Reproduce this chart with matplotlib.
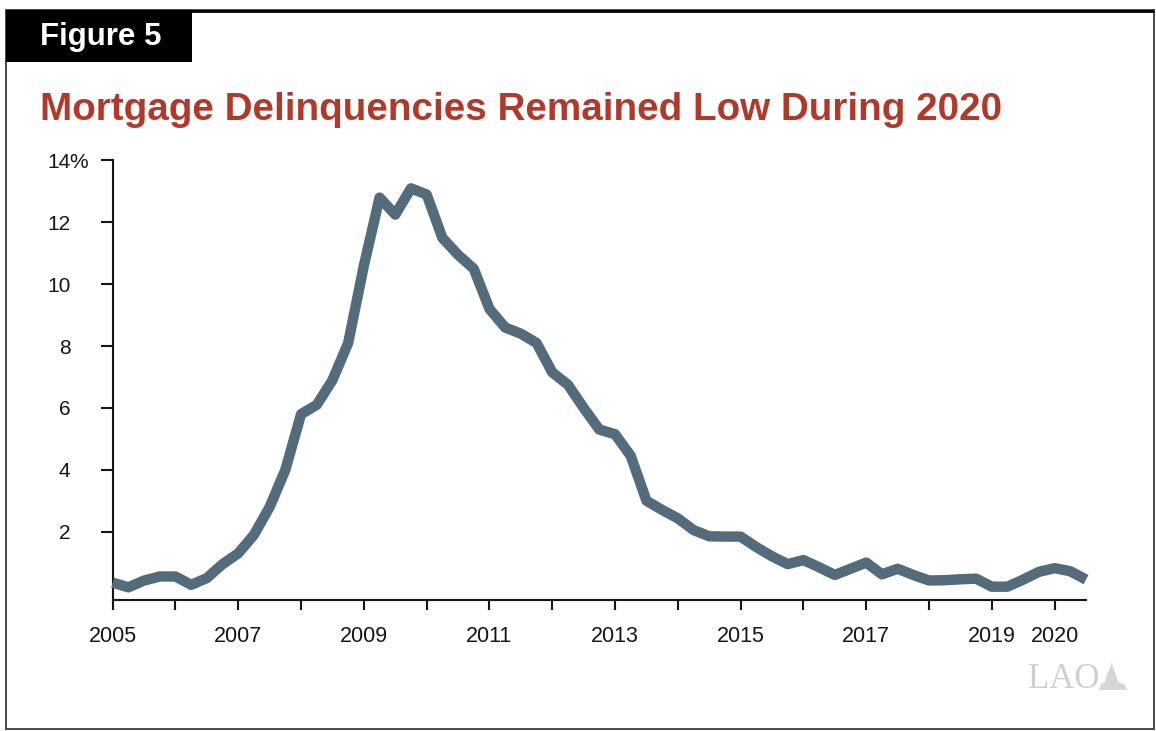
import matplotlib
matplotlib.use("Agg")
from matplotlib import pyplot as plt
from matplotlib.patches import Rectangle, Polygon
import numpy as np

plt.rcParams['font.family'] = ['Liberation Sans', 'DejaVu Sans']

# quarterly mortgage delinquency rate (%), 2005 Q1 .. 2020 Q3
years = list(range(2005, 2021))
rate = [
    0.35, 0.20, 0.42, 0.55,    # 2005
    0.55, 0.28, 0.50, 0.95,    # 2006
    1.30, 1.90, 2.80, 4.00,    # 2007
    5.80, 6.10, 6.90, 8.10,    # 2008
    10.60, 12.80, 12.25, 13.10,  # 2009
    12.90, 11.50, 10.95, 10.50,  # 2010
    9.20, 8.60, 8.40, 8.10,    # 2011
    7.15, 6.75, 6.00, 5.30,    # 2012
    5.15, 4.45, 3.00, 2.70,    # 2013
    2.43, 2.05, 1.85, 1.84,    # 2014
    1.84, 1.50, 1.20, 0.95,    # 2015
    1.08, 0.85, 0.60, 0.80,    # 2016
    1.00, 0.62, 0.80, 0.60,    # 2017
    0.42, 0.43, 0.46, 0.48,    # 2018
    0.22, 0.22, 0.45, 0.70,    # 2019
    0.82, 0.72, 0.45,          # 2020
]
quarter_pos = [years[0] + i / 4 for i in range(len(rate))]

y_ticks = [2, 4, 6, 8, 10, 12, 14]
x_labels = ['2005', '', '2007', '', '2009', '', '2011', '', '2013', '', '2015', '', '2017', '', '2019', '2020']

title = 'Mortgage Delinquencies Remained Low During 2020'
line_color = '#546b7c'
title_color = '#b1392b'
ink = '#151515'

W, H = 1156, 731
fig = plt.figure(figsize=(W / 100, H / 100), dpi=100)

def fx(px):
    return px / W

def fy(py):
    return 1 - py / H

# outer frame and figure tag
fig.patches.append(Rectangle((fx(6), fy(729)), fx(1148), 719 / H, transform=fig.transFigure,
                             fill=False, edgecolor='#3a3a3a', lw=1.3))
fig.patches.append(Rectangle((fx(6), fy(11)), fx(1148), 0.0, transform=fig.transFigure,
                             fill=False, edgecolor='black', lw=2))
fig.patches.append(Rectangle((fx(6), fy(62)), fx(186), 52 / H, transform=fig.transFigure,
                             facecolor='black', edgecolor='none'))
fig.text(fx(40), fy(45), 'Figure 5', color='white', fontsize=22.5, fontweight='bold', va='baseline')
fig.text(fx(40), fy(120), title, color=title_color, fontsize=27.8, fontweight='bold', va='baseline')

ax = fig.add_axes([fx(112.7), fy(600), fx(1086) - fx(112.7), fy(160.5) - fy(600)])
ax.plot(quarter_pos, rate, color=line_color, lw=7.5, solid_joinstyle='round', solid_capstyle='butt',
        clip_on=False, zorder=3)

ax.set_xlim(2005, 2020.5)
ax.set_ylim(-0.21, 14)
for s in ['top', 'right']:
    ax.spines[s].set_visible(False)
for s in ['left', 'bottom']:
    ax.spines[s].set_linewidth(1.5)
    ax.spines[s].set_color(ink)

ax.set_yticks(y_ticks)
ax.set_yticklabels([str(v) for v in y_ticks])
ax.set_xticks(years)
ax.set_xticklabels(x_labels)
ax.tick_params(axis='y', direction='out', length=9, width=1.5, pad=21.5, labelsize=15, colors=ink)
ax.tick_params(axis='x', direction='out', length=7.5, width=1.5, pad=11, labelsize=15.5, colors=ink)
ax.annotate('%', xy=(0, 14), xycoords=('axes fraction', 'data'), xytext=(-31, 0),
            textcoords='offset points', ha='left', va='center_baseline', fontsize=15, color=ink)

# LAO mark
fig.text(fx(1028), fy(688), 'LAO', family=['Liberation Serif', 'DejaVu Serif'], fontsize=25,
         color='#cfcfcf', va='baseline')
icon = [(1099, 690), (1127, 690), (1124, 684), (1118, 682), (1116, 674), (1113, 668),
        (1112, 662), (1110, 668), (1107, 674), (1105, 682), (1101, 684)]
fig.patches.append(Polygon([(fx(a), fy(b)) for a, b in icon], closed=True, transform=fig.transFigure,
                           facecolor='#d6d6d6', edgecolor='none'))

fig.savefig('out.png', dpi=100)
